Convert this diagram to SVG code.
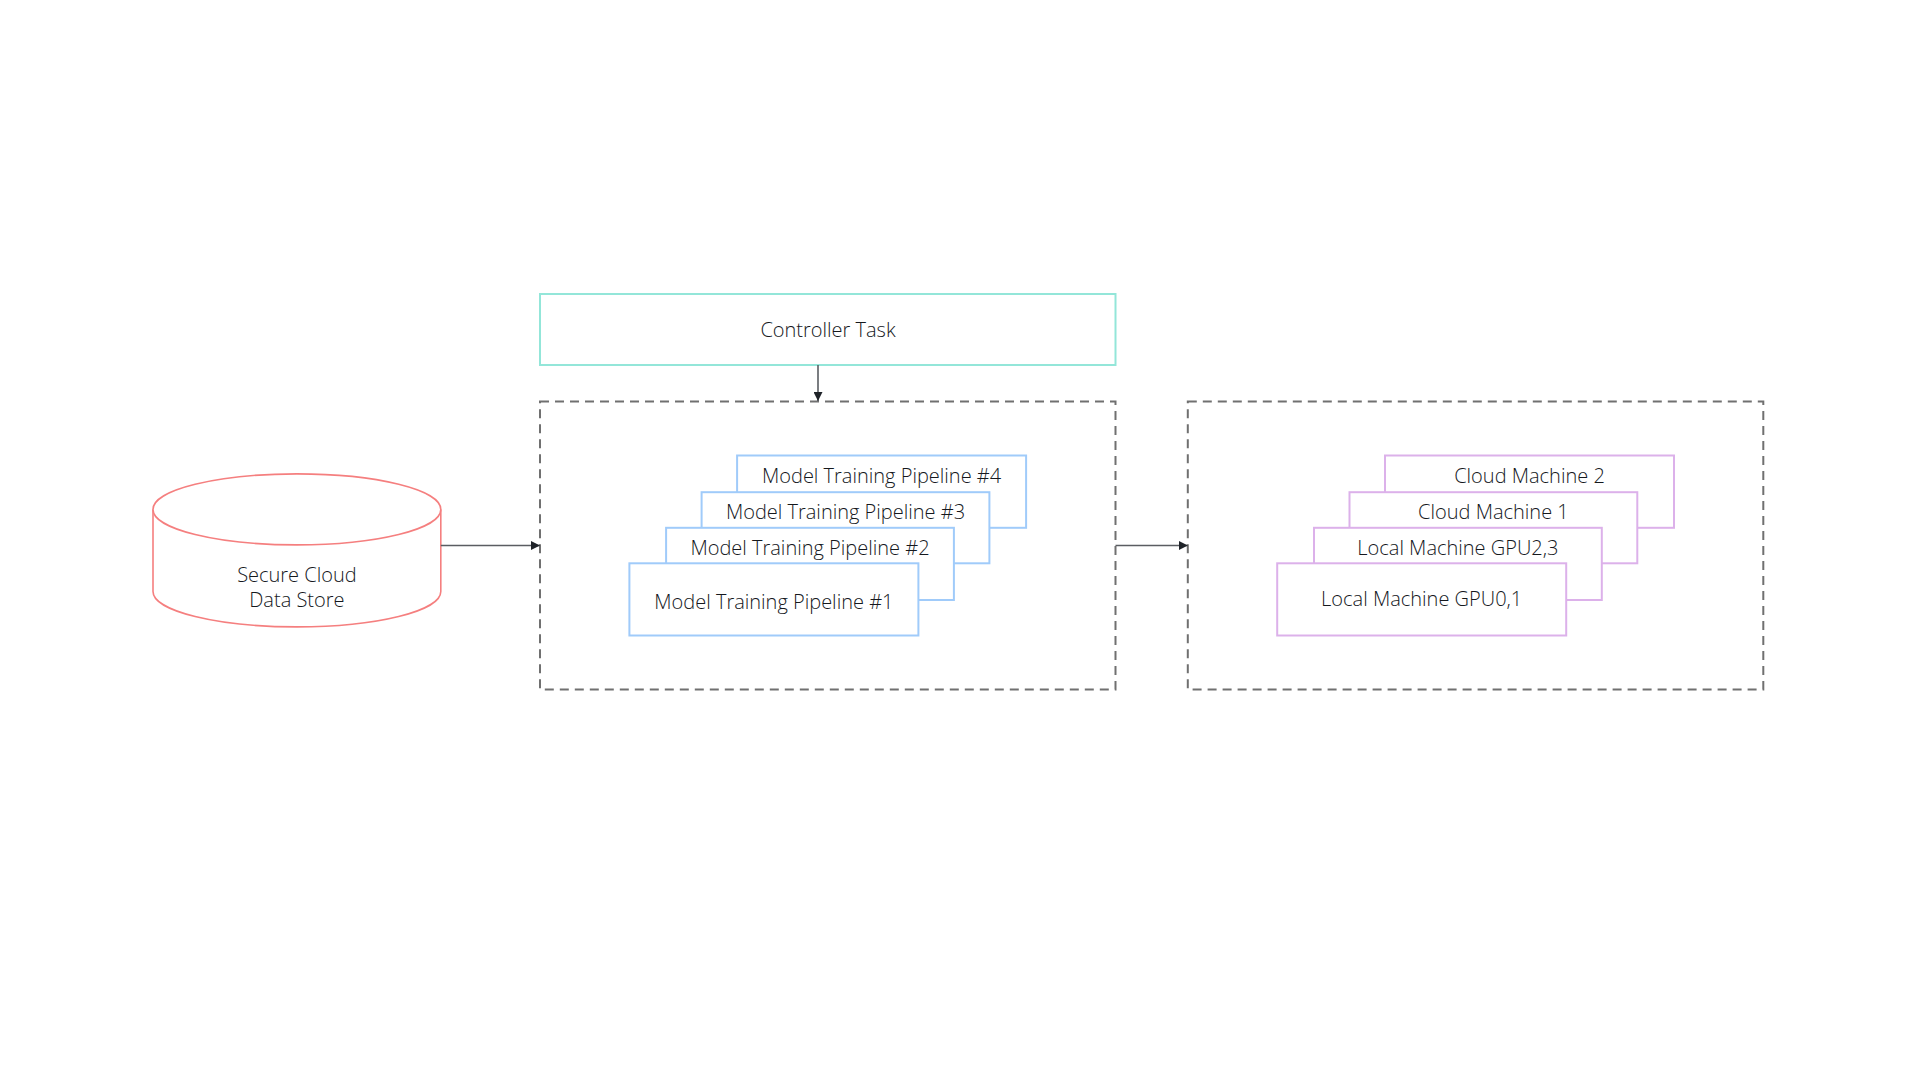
<svg xmlns="http://www.w3.org/2000/svg" width="1920" height="1081" viewBox="0 0 1920 1081">
<style>
text{font-family:"Open Sans","Noto Sans","Liberation Sans",sans-serif;font-size:20px;font-weight:300;fill:#15181d;text-anchor:middle;dominant-baseline:central}
.dash{fill:none;stroke:#707070;stroke-width:2;stroke-dasharray:9 6}
.ctl{fill:#fff;stroke:#93e6d9;stroke-width:2}
.pipe{fill:#fff;stroke:#a0cbfa;stroke-width:2}
.mach{fill:#fff;stroke:#dcb1ea;stroke-width:2}
.db{fill:#fff;stroke:#f57f7f;stroke-width:1.6}
.edge{fill:none;stroke:#5a5d62;stroke-width:1.6;marker-end:url(#arr)}
</style>
<defs>
<marker id="arr" viewBox="0 0 10 10" refX="10" refY="5" markerWidth="9" markerHeight="9" markerUnits="userSpaceOnUse" orient="auto">
<path d="M0,0 L10,5 L0,10 z" fill="#1f2329"/>
</marker>
</defs>
<rect width="1920" height="1081" fill="#fff"/>
<g id="controller">
<rect class="ctl" x="540" y="294" width="575.5" height="71"/>
<text x="828" y="329">Controller Task</text>
</g>
<g id="pipelines-group">
<rect class="dash" x="540" y="401.6" width="575.5" height="287.8"/>
</g>
<g id="machines-group">
<rect class="dash" x="1187.8" y="401.6" width="575.5" height="287.8"/>
</g>
<g id="datastore">
<path class="db" d="M153,509.4 L153,591.4 A143.9,35.5 0 0 0 440.8,591.4 L440.8,509.4"/>
<ellipse class="db" cx="296.9" cy="509.4" rx="143.9" ry="35.5"/>
<text x="296.9" y="574">Secure Cloud</text>
<text x="296.9" y="599">Data Store</text>
</g>
<g id="pipeline4">
<rect class="pipe" x="737.1" y="455.5" width="289" height="72.3"/>
<text x="881.6" y="475.5">Model Training Pipeline #4</text>
</g>
<g id="pipeline3">
<rect class="pipe" x="701.6" y="492.2" width="287.8" height="71.1"/>
<text x="845.5" y="511.5">Model Training Pipeline #3</text>
</g>
<g id="pipeline2">
<rect class="pipe" x="666.1" y="527.8" width="287.8" height="72.2"/>
<text x="810" y="547.5">Model Training Pipeline #2</text>
</g>
<g id="pipeline1">
<rect class="pipe" x="629.4" y="563.3" width="289" height="72.2"/>
<text x="773.9" y="601">Model Training Pipeline #1</text>
</g>
<g id="cloud2">
<rect class="mach" x="1385" y="455.5" width="289" height="72.3"/>
<text x="1529.5" y="475.5">Cloud Machine 2</text>
</g>
<g id="cloud1">
<rect class="mach" x="1349.5" y="492.2" width="287.8" height="71.1"/>
<text x="1493.4" y="511.5">Cloud Machine 1</text>
</g>
<g id="gpu23">
<rect class="mach" x="1314" y="527.8" width="287.8" height="72.2"/>
<text x="1457.9" y="547.5">Local Machine GPU2,3</text>
</g>
<g id="gpu01">
<rect class="mach" x="1277.2" y="563.3" width="289" height="72.2"/>
<text x="1421.7" y="598.8">Local Machine GPU0,1</text>
</g>
<g id="connectors">
<path class="edge" d="M818,365 L818,401"/>
<path class="edge" d="M440.8,545.5 L540,545.5"/>
<path class="edge" d="M1115.5,545.5 L1187.8,545.5"/>
</g>
</svg>
